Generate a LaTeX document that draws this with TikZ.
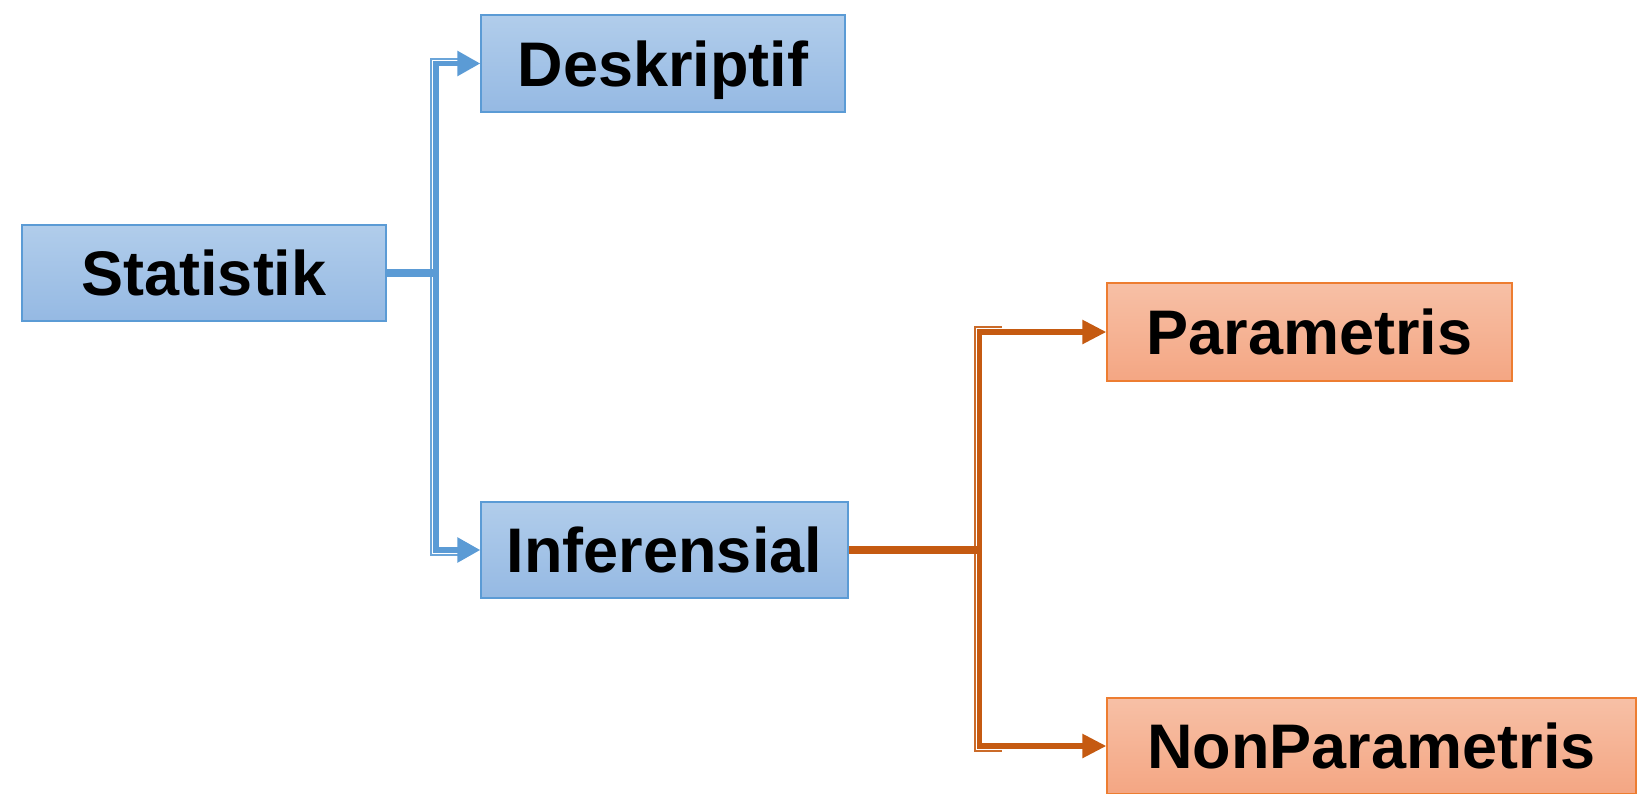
\documentclass[tikz,border=0pt]{standalone}
\usepackage{fontspec}
\setmainfont{Liberation Sans}
\usetikzlibrary{arrows.meta,calc}
\definecolor{bluetop}{HTML}{B1CDEB}
\definecolor{bluebot}{HTML}{95B9E3}
\definecolor{blueline}{HTML}{5B9BD5}
\definecolor{orgtop}{HTML}{F7C0A6}
\definecolor{orgbot}{HTML}{F4A683}
\definecolor{orgborder}{HTML}{ED7D31}
\definecolor{orgline}{HTML}{C55A11}
\begin{document}
\begin{tikzpicture}[x=1pt,y=-1pt,
  box/.style={rectangle, inner sep=0pt, line width=1.3pt,
    font=\fontsize{63}{70}\selectfont\bfseries, text height=45pt, text depth=0pt},
  bluebox/.style={box, draw=blueline, top color=bluetop, bottom color=bluebot},
  orgbox/.style={box, draw=orgborder, top color=orgtop, bottom color=orgbot},
  bthick/.style={draw=blueline, line width=5.5pt},
  bthin/.style={draw=blueline!90, line width=2pt},
  othick/.style={draw=orgline, line width=5.5pt},
  othin/.style={draw=orgline!90, line width=2pt},
  barrow/.style={bthick, -{Triangle[length=23pt,width=24pt]}},
  oarrow/.style={othick, -{Triangle[length=24pt,width=23pt]}}]
\useasboundingbox (0,0) rectangle (1640,793);
\node[bluebox, minimum width=364pt, minimum height=96pt] (stat) at (204,273) {Statistik};
\node[bluebox, minimum width=364pt, minimum height=97pt] (desk) at (663,63.5) {Deskriptif};
\node[bluebox, minimum width=367pt, minimum height=96pt] (inf) at (664.5,550) {Inferensial};
\node[orgbox, minimum width=405pt, minimum height=98pt] (par) at (1309.5,332) {Parametris};
\node[orgbox, minimum width=529pt, minimum height=96pt] (nonpar) at (1371.5,746) {NonParametris};
% blue connectors
\coordinate (bj) at (436,273);
\draw[bthin] ($(bj |- desk.west)+(22,-4.75)$) -- ($(bj |- desk.west)+(-4.75,-4.75)$)
  -- ($(bj |- inf.west)+(-4.75,4.75)$) -- ($(bj |- inf.west)+(22,4.75)$);
\draw[bthick, line width=8pt] (stat.east) -- ($(stat.east -| bj)+(2.75,0)$);
\draw[bthick] ($(bj |- desk.west)+(0,-2.75)$) -- ($(bj |- inf.west)+(0,2.75)$);
\draw[barrow] ($(bj |- desk.west)+(-2.75,0)$) -- (desk.west);
\draw[barrow] ($(bj |- inf.west)+(-2.75,0)$) -- (inf.west);
% orange connectors
\coordinate (oj) at (979.5,550);
\draw[othin] ($(oj |- par.west)+(22,-4.75)$) -- ($(oj |- par.west)+(-4.75,-4.75)$)
  -- ($(oj |- nonpar.west)+(-4.75,4.75)$) -- ($(oj |- nonpar.west)+(22,4.75)$);
\draw[othick, line width=8pt] (inf.east) -- ($(inf.east -| oj)+(2.75,0)$);
\draw[othick] ($(oj |- par.west)+(0,-2.75)$) -- ($(oj |- nonpar.west)+(0,2.75)$);
\draw[oarrow] ($(oj |- par.west)+(-2.75,0)$) -- (par.west);
\draw[oarrow] ($(oj |- nonpar.west)+(-2.75,0)$) -- (nonpar.west);
\end{tikzpicture}
\end{document}
